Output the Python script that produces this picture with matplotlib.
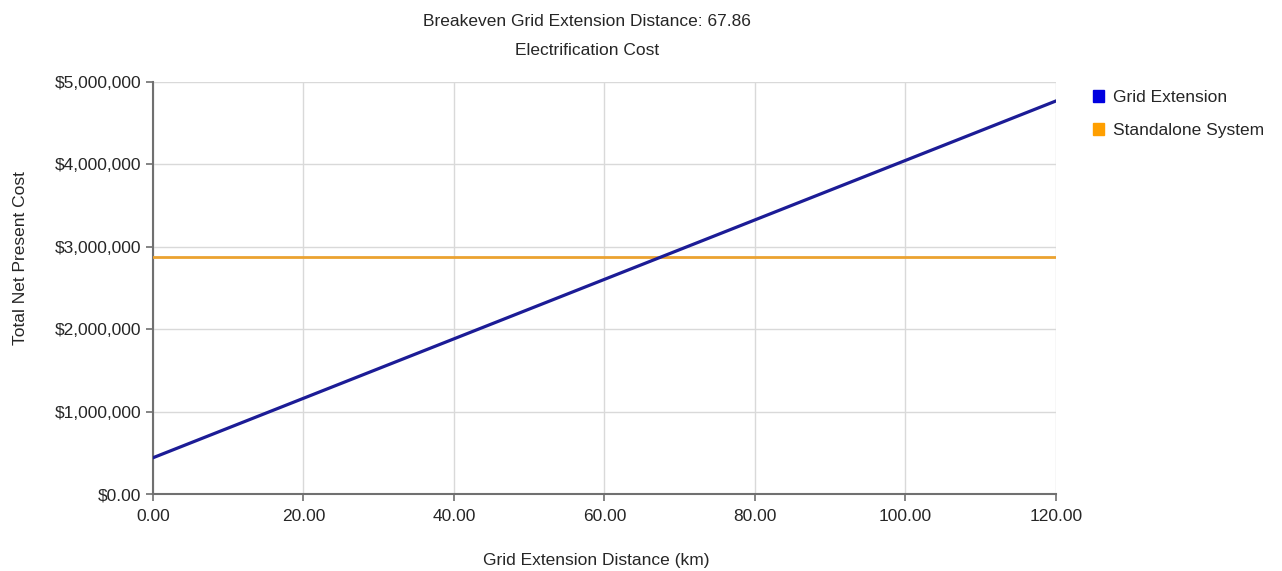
import numpy as np
import matplotlib.pyplot as plt
from matplotlib.patches import Patch
from matplotlib.ticker import FuncFormatter

plt.rcParams['font.family'] = ['Liberation Sans', 'DejaVu Sans']

# data
distance = [0.0, 120.0]                 # km
grid_cost = [440000, 4770000]           # grid extension NPC
standalone_cost = [2880000, 2880000]    # standalone system NPC
breakeven = 67.86

x_ticks = [0, 20, 40, 60, 80, 100, 120]
y_ticks = [0, 1e6, 2e6, 3e6, 4e6, 5e6]

grid_col = '#1c1c96'
stand_col = '#eba230'
txt = '#262626'

fig = plt.figure(figsize=(12.82, 5.71), dpi=100)
ax = fig.add_axes([0.1193, 0.1348, 0.7044, 0.7216])

ax.plot(distance, standalone_cost, color=stand_col, lw=2.0, zorder=3)
ax.plot(distance, grid_cost, color=grid_col, lw=2.3, zorder=4)

ax.set_xlim(0, 120)
ax.set_ylim(0, 5e6)
ax.set_xticks(x_ticks)
ax.set_yticks(y_ticks)
ax.xaxis.set_major_formatter(FuncFormatter(lambda v, p: f'{v:.2f}'))
ax.yaxis.set_major_formatter(FuncFormatter(lambda v, p: '$0.00' if v == 0 else f'${v:,.0f}'))
ax.grid(True, color='#d9d9d9', lw=1.0)
ax.set_axisbelow(True)

for s in ['top', 'right']:
    ax.spines[s].set_visible(False)
for s in ['left', 'bottom']:
    ax.spines[s].set_color('#707070')
    ax.spines[s].set_linewidth(1.5)
ax.tick_params(colors='#707070', length=5, width=1.2, labelcolor=txt, labelsize=12.5)
ax.tick_params(axis='x', pad=6)

ax.set_xlabel('Grid Extension Distance (km)', fontsize=12.5, color=txt)
ax.set_ylabel('Total Net Present Cost', fontsize=12.5, color=txt)
ax.xaxis.set_label_coords(0.4906, -0.143)
ax.yaxis.set_label_coords(-0.138, 0.573)

fig.text(0.458, 0.962, f'Breakeven Grid Extension Distance: {breakeven:.2f}',
         ha='center', va='center', fontsize=12.5, color=txt)
fig.text(0.458, 0.911, 'Electrification Cost', ha='center', va='center',
         fontsize=12.5, color=txt)

handles = [Patch(facecolor='#0000e0', edgecolor='#0000e0', label='Grid Extension'),
           Patch(facecolor='#ff9f00', edgecolor='#ff9f00', label='Standalone System')]
fig.legend(handles=handles, loc='upper left', bbox_to_anchor=(0.84, 0.87),
           frameon=False, fontsize=12.5, handlelength=0.65, handleheight=0.65,
           handletextpad=0.55, labelspacing=1.05, labelcolor=txt)

fig.savefig('out.png', dpi=100)
